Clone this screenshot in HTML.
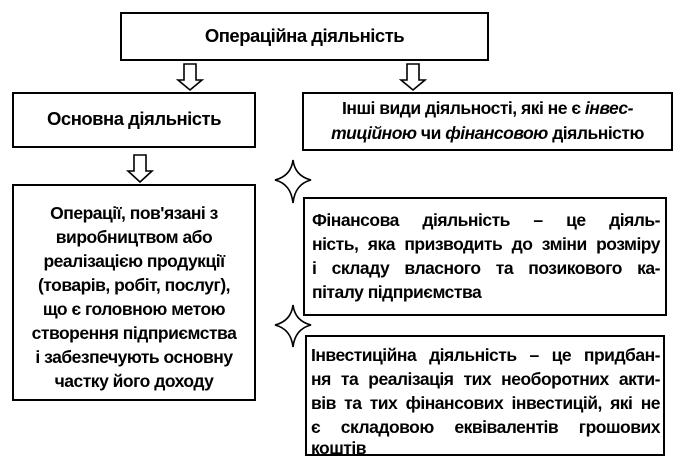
<!DOCTYPE html>
<html><head><meta charset="utf-8"><style>
body{margin:0;background:#fff;width:700px;height:463px;position:relative;overflow:hidden;font-family:"Liberation Sans",sans-serif;color:#000}
.b{position:absolute;border:2px solid #000;box-sizing:border-box;background:#fff}
.t{position:absolute;font-size:17.5px;font-weight:bold;letter-spacing:-0.5px;line-height:24px;white-space:nowrap}
.c{text-align:center}
.j div{text-align:justify;text-align-last:justify;white-space:normal}
.j div.l{text-align-last:left}
</style></head><body>
<svg width="700" height="463" style="position:absolute;left:0;top:0" fill="#fff" stroke="#000" stroke-width="1.6">
<path d="M184 64 H196 V80 H202 L190 90 L178 80 H184 Z"/>
<path d="M407 64 H419 V80 H425 L413 90 L401 80 H407 Z"/>
<path d="M134 155 H146 V171 H152 L140 182 L128 171 H134 Z"/>
<path d="M293 160 Q295 176 311 180 Q295 184 293 203 Q291 184 275 180 Q291 176 293 160 Z"/>
<path d="M293 305 Q295 321 311 325 Q295 329 293 347 Q291 329 275 325 Q291 321 293 305 Z"/>
</svg>
<div class="b" style="left:120px;top:12px;width:369px;height:49px"></div>
<div class="t c" style="left:120px;top:24px;width:369px;font-size:18.5px">Операційна діяльність</div>
<div class="b" style="left:12px;top:92px;width:244px;height:56px"></div>
<div class="t c" style="left:12px;top:107px;width:244px;font-size:18.5px">Основна діяльність</div>
<div class="b" style="left:302px;top:92px;width:371px;height:59px"></div>
<div class="t c" style="left:302px;top:96px;width:371px;line-height:25px">Інші види діяльності, які не є <i>інвес-</i><br><i>тиційною</i> чи <i>фінансовою</i> діяльністю</div>
<div class="b" style="left:12px;top:184px;width:244px;height:217px"></div>
<div class="t c" style="left:12px;top:201px;width:244px">Операції, пов'язані з<br>виробництвом або<br>реалізацією продукції<br>(товарів, робіт, послуг),<br>що є головною метою<br>створення підприємства<br>і забезпечують основну<br>частку його доходу</div>
<div class="b" style="left:303px;top:197px;width:364px;height:119px"></div>
<div class="t j" style="left:312px;top:208px;width:348px">
<div>Фінансова діяльність – це діяль-</div><div>ність, яка призводить до зміни розміру</div><div>і складу власного та позикового ка-</div><div class="l">піталу підприємства</div></div>
<div class="b" style="left:305px;top:335px;width:360px;height:121px"></div>
<div class="t j" style="left:311px;top:343px;width:349px">
<div>Інвестиційна діяльність – це придбан-</div><div>ня та реалізація тих необоротних акти-</div><div>вів та тих фінансових інвестицій, які не</div><div>є складовою еквівалентів грошових</div><div class="l" style="line-height:18px">коштів</div></div>
</body></html>
